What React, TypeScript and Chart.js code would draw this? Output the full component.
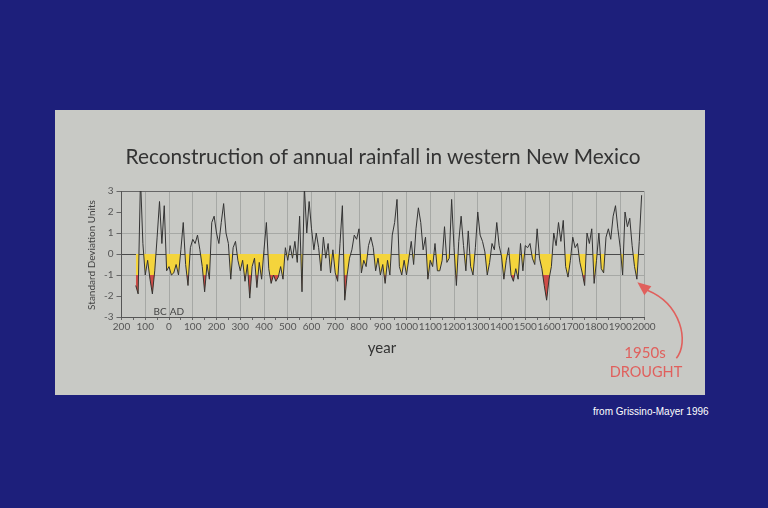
import React, { useEffect, useRef } from "react";
import { Chart, registerables } from "chart.js";

Chart.register(...registerables);

// ---------- data ----------
const START_YEAR = -140; // 140 BC
const STEP = 10;
// standard deviation units, one value per decade
const rainfall: number[] = [
  // -140 .. -10
  -1.5, -1.9, 3.6, 0.5, -1.0, -0.3, -1.2, -1.9, -0.8, 0.8, 2.5, 0.5, 2.3, -0.8,
  // 0 .. 90
  -0.6, -1.0, -0.9, -0.5, -1.0, 0.2, 1.5, -0.5, -1.5, 0.3,
  // 100 .. 190
  0.7, 0.5, 0.9, 0.2, -0.6, -1.8, -0.5, -1.2, 1.5, 1.8,
  // 200 .. 290
  1.0, 0.5, 1.5, 2.4, 1.0, 0.5, -1.2, 0.3, 0.6, -0.3,
  // 300 .. 390
  -0.8, -0.3, -1.3, -0.5, -2.1, -0.6, -0.2, -1.6, -0.4, -1.2,
  // 400 .. 490
  0.2, 1.5, -0.7, -1.4, -1.0, -1.3, -1.1, -0.6, -1.2, 0.3,
  // 500 .. 590
  -0.3, 0.4, -0.2, 0.6, -0.4, 1.8, -1.8, 3.2, 1.0, 2.5,
  // 600 .. 690
  1.2, 0.2, 1.0, 0.3, -0.8, 0.8, -0.2, 0.5, -0.9, 0.2,
  // 700 .. 790
  -0.9, -1.3, 0.5, 2.3, -2.2, -1.0, -0.2, 0.2, 0.9, 0.7,
  // 800 .. 890
  1.2, -0.9, -0.3, -0.6, 0.4, 0.8, 0.3, -0.8, -0.2, -1.0,
  // 900 .. 990
  -0.5, -1.4, -0.3, -1.0, 0.9, 1.5, 2.6, -0.6, -1.0, -0.3,
  // 1000 .. 1090
  -1.0, -0.2, 0.6, -0.5, 1.2, 2.2, 1.5, 0.2, 0.8, -1.2,
  // 1100 .. 1190
  -0.3, -0.6, 0.5, -0.8, -0.8, -0.3, 1.3, -0.4, -0.2, 2.6,
  // 1200 .. 1290
  0.3, -1.5, 0.6, 1.8, 0.4, -0.8, 1.1, -0.6, -1.0, 0.3,
  // 1300 .. 1390
  2.0, 0.9, 0.6, 0.1, -1.0, -0.4, 0.5, 0.2, 1.5, 0.4,
  // 1400 .. 1490
  -0.1, -1.2, -0.3, 0.3, -1.0, -1.3, -0.7, -1.2, 0.5, -0.8,
  // 1500 .. 1590
  0.4, 0.3, 0.5, -0.2, -0.5, 1.2, -0.2, -0.7, -1.5, -2.2,
  // 1600 .. 1690
  -1.2, -0.6, 1.0, 0.4, 1.5, 0.6, 1.6, -0.6, -1.1, -0.3,
  // 1700 .. 1790
  0.8, 0.3, 0.5, -0.4, -0.9, -1.5, 1.0, 0.5, 1.2, -1.4,
  // 1800 .. 1890
  -0.3, 1.0, -0.7, -0.9, 0.8, 1.2, 0.7, 1.8, 2.3, 1.2,
  // 1900 .. 1990
  0.3, -1.0, 2.0, 1.3, 1.7, 0.4, -0.6, -1.2, 0.6, 2.8,
];
const years: number[] = rainfall.map((_, i) => START_YEAR + i * STEP);

const X_MIN = -200;
const X_MAX = 2000;
const Y_MIN = -3;
const Y_MAX = 3;
const xTickLabels = [
  "200", "100", "0", "100", "200", "300", "400", "500", "600", "700", "800",
  "900", "1000", "1100", "1200", "1300", "1400", "1500", "1600", "1700",
  "1800", "1900", "2000",
];
const DROUGHT_LEVEL = -1; // red below this
const DROUGHT_POINT = { year: 1972, value: -1.35 }; // arrow target

// ---------- styles ----------
const BLUE = "#1d1f7b";
const PANEL = "#c8c9c5";
const YELLOW = "#f4d43c";
const RED = "#cf4c47";
const LINE = "#333333";
const ANNOT = "#e0605d";
const FONT = "Lato, 'DejaVu Sans', sans-serif";

const arrowPlugin = {
  id: "droughtArrow",
  afterDraw(chart: any) {
    const { ctx, scales } = chart;
    const tx = scales.x.getPixelForValue(DROUGHT_POINT.year);
    const ty = scales.y.getPixelForValue(DROUGHT_POINT.value);
    ctx.save();
    ctx.strokeStyle = ANNOT;
    ctx.fillStyle = ANNOT;
    ctx.lineWidth = 1.6;
    ctx.beginPath();
    ctx.moveTo(tx + 39, ty + 76);
    ctx.bezierCurveTo(tx + 52, ty + 60, tx + 44, ty + 22, tx + 10, ty + 8);
    ctx.stroke();
    ctx.beginPath();
    ctx.moveTo(tx, ty);
    ctx.lineTo(tx + 14, ty + 4);
    ctx.lineTo(tx + 7, ty + 13);
    ctx.closePath();
    ctx.fill();
    ctx.restore();
  },
};

export default function App() {
  const ref = useRef<HTMLCanvasElement | null>(null);

  useEffect(() => {
    if (!ref.current) return;
    const points = years.map((x, i) => ({ x, y: rainfall[i] }));
    const transparent = "rgba(0,0,0,0)";
    const chart = new Chart(ref.current, {
      type: "line",
      data: {
        datasets: [
          {
            data: points,
            order: 2,
            borderColor: transparent,
            borderWidth: 0,
            pointRadius: 0,
            tension: 0,
            fill: { target: "origin", above: transparent, below: YELLOW },
          },
          {
            data: points,
            order: 1,
            borderColor: transparent,
            borderWidth: 0,
            pointRadius: 0,
            tension: 0,
            fill: { target: { value: DROUGHT_LEVEL }, above: transparent, below: RED },
          },
          {
            data: points,
            order: 0,
            borderColor: LINE,
            borderWidth: 1,
            pointRadius: 0,
            tension: 0,
            fill: false,
          },
        ],
      } as any,
      options: {
        animation: false,
        responsive: false,
        maintainAspectRatio: false,
        layout: { padding: { left: 36.5, top: 81, right: 61, bottom: 56 } },
        plugins: { legend: { display: false }, tooltip: { enabled: false } },
        scales: {
          x: {
            type: "linear",
            min: X_MIN,
            max: X_MAX,
            afterFit: (s: any) => {
              s.height = 22;
            },
            ticks: {
              stepSize: 50,
              autoSkip: false,
              maxRotation: 0,
              padding: 1,
              color: "#555",
              font: { family: FONT, size: 10 },
              callback: (v: any) =>
                Number(v) % 100 === 0 ? xTickLabels[(Number(v) - X_MIN) / 100] : "",
            },
            grid: {
              color: (c: any) =>
                c.tick && c.tick.value % 100 === 0 ? "#a6a8a5" : transparent,
              tickColor: "#666",
              tickLength: 3,
            },
            border: { color: "#555" },
          },
          y: {
            min: Y_MIN,
            max: Y_MAX,
            afterFit: (s: any) => {
              s.width = 30;
            },
            ticks: {
              stepSize: 0.5,
              padding: 3,
              color: "#555",
              font: { family: FONT, size: 10 },
              callback: (v: any) => (Number.isInteger(Number(v)) ? String(v) : ""),
            },
            grid: {
              color: (c: any) => {
                const v = c.tick ? c.tick.value : null;
                if (v === 0) return "#4a4a4a";
                if (v === Y_MAX) return "#666";
                if (v === 1 || v === -1) return "#a6a8a5";
                return transparent;
              },
              tickColor: "#666",
              tickLength: 5,
            },
            border: { color: "#555" },
          },
        },
      } as any,
      plugins: [arrowPlugin],
    });
    return () => chart.destroy();
  }, []);

  const abs = (s: React.CSSProperties): React.CSSProperties => ({
    position: "absolute",
    whiteSpace: "nowrap",
    ...s,
  });

  return (
    <div
      style={{
        position: "fixed",
        left: 0,
        top: 0,
        width: 768,
        height: 508,
        background: BLUE,
        overflow: "hidden",
        fontFamily: FONT,
      }}
    >
      <div style={abs({ left: 55, top: 110, width: 650, height: 285, background: PANEL })}>
        <canvas ref={ref} width={650} height={285} style={{ width: 650, height: 285, display: "block" }} />
      </div>
      <div
        style={abs({
          left: 383,
          top: 156,
          transform: "translate(-50%,-50%)",
          fontSize: 20.8,
          color: "#333",
          lineHeight: "24px",
        })}
      >
        Reconstruction of annual rainfall in western New Mexico
      </div>
      <div
        style={abs({
          left: 91,
          top: 254.5,
          transform: "translate(-50%,-50%) rotate(-90deg)",
          fontSize: 10,
          color: "#444",
          lineHeight: "12px",
        })}
      >
        Standard Deviation Units
      </div>
      <div style={abs({ left: 160, top: 311, transform: "translate(-50%,-50%)", fontSize: 10, color: "#444" })}>BC</div>
      <div style={abs({ left: 177, top: 311, transform: "translate(-50%,-50%)", fontSize: 10, color: "#444" })}>AD</div>
      <div style={abs({ left: 382, top: 347, transform: "translate(-50%,-50%)", fontSize: 15, color: "#333" })}>year</div>
      <div style={abs({ left: 645, top: 352, transform: "translate(-50%,-50%)", fontSize: 15, color: ANNOT, lineHeight: "16px" })}>1950s</div>
      <div style={abs({ left: 646, top: 371.5, transform: "translate(-50%,-50%)", fontSize: 14.5, color: ANNOT, lineHeight: "16px" })}>DROUGHT</div>
      <div
        style={abs({
          left: 593,
          top: 410.5,
          transform: "translateY(-50%)",
          fontSize: 10,
          color: "#fff",
          fontFamily: "'Liberation Sans', Arial, sans-serif",
        })}
      >
        from Grissino-Mayer 1996
      </div>
    </div>
  );
}
